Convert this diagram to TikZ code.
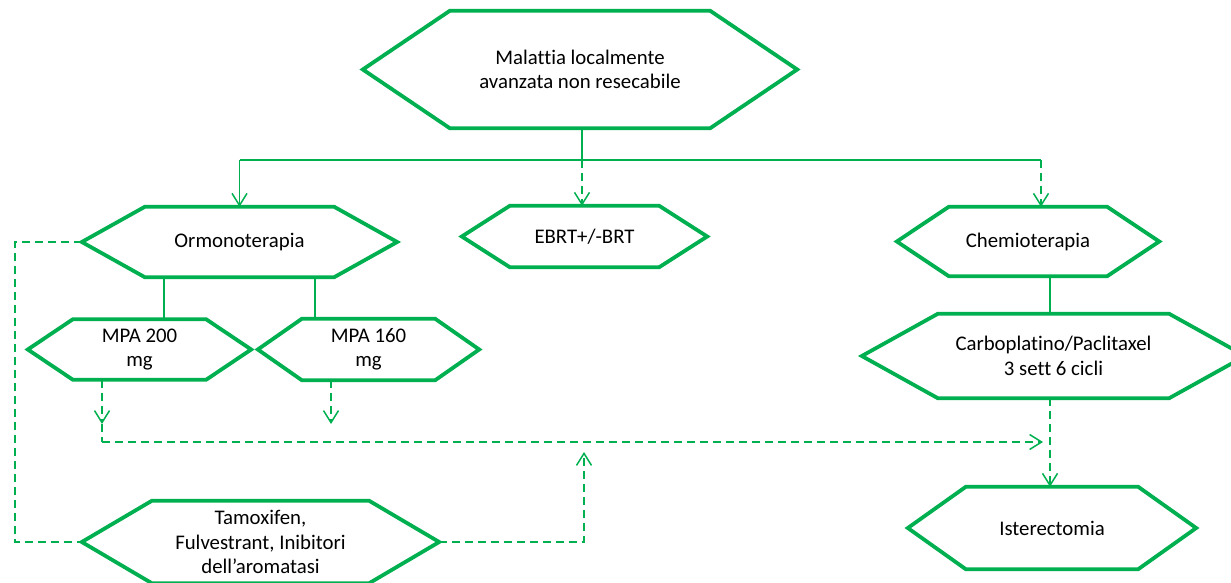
\documentclass[tikz,border=0pt]{standalone}
\usepackage{fontspec}
\setmainfont{Carlito}[Ligatures=NoCommon]
\usetikzlibrary{arrows.meta}
\definecolor{ogreen}{RGB}{0,176,80}
\newcommand\hexoutline[2]{\draw[hexline] (#1.west) -- ([xshift=#2pt]#1.north west) -- ([xshift=-#2pt]#1.north east) -- (#1.east) -- ([xshift=-#2pt]#1.south east) -- ([xshift=#2pt]#1.south west) -- cycle;}
\begin{document}
\begin{tikzpicture}[x=1pt,y=-1pt,
  box/.style={rectangle, inner sep=0pt, align=center, font=\fontsize{20.8}{24.5}\selectfont},
  hexline/.style={draw=ogreen, line width=3.8pt, line join=miter},
  conn/.style={draw=ogreen, line width=1.5pt},
  dconn/.style={conn, dash pattern=on 8pt off 5pt},
  arr/.style={-{Straight Barb[length=12pt,width=15pt]}}]
\useasboundingbox (0,0) rectangle (1231,583);
\clip (0,0) rectangle (1231,583);
% nodes
\node[box, minimum width=434pt, minimum height=117pt] (top) at (580,69.5) {Malattia localmente\\avanzata non resecabile};
\node[box, minimum width=315pt, minimum height=70pt] (ormo) at (239.5,242) {Ormonoterapia};
\node[box, minimum width=245pt, minimum height=61pt] (ebrt) at (584.5,236.5) {EBRT+/-BRT};
\node[box, minimum width=262pt, minimum height=69pt] (chemio) at (1028,241.5) {Chemioterapia};
\node[box, minimum width=383pt, minimum height=84pt] (carbo) at (1053.5,356) {Carboplatino/Paclitaxel\\3 sett 6 cicli};
\node[box, minimum width=288pt, minimum height=82pt] (ister) at (1052,528) {Isterectomia};
\node[box, minimum width=223pt, minimum height=60pt] (mpa200) at (139.5,349.5) {MPA 200\\mg};
\node[box, minimum width=221pt, minimum height=61pt] (mpa160) at (368.5,349.5) {MPA 160\\mg};
\node[box, minimum width=357pt, minimum height=82pt] (tam) at (260.5,542) {Tamoxifen,\\Fulvestrant, Inibitori\\dell’aromatasi};
\hexoutline{top}{87}
\hexoutline{ormo}{63}
\hexoutline{ebrt}{48}
\hexoutline{chemio}{52}
\hexoutline{carbo}{76}
\hexoutline{ister}{58}
\hexoutline{mpa200}{45}
\hexoutline{mpa160}{44}
\hexoutline{tam}{70}
% connectors
\coordinate (hl) at (239.5,160);
\coordinate (hm) at (582,160);
\coordinate (hr) at (1041,160);
\draw[conn] (top.south -| hm) -- (hm);
\draw[conn] (hl) -- (hr);
\draw[conn, arr] (hl) -- (ormo.north);
\draw[dconn, arr] (hm) -- (ebrt.north -| hm);
\draw[dconn, arr] (hr) -- (chemio.north -| hr);
\draw[conn] ([xshift=-75.5pt]ormo.south) -- ([xshift=-75.5pt]ormo.south |- mpa200.north);
\draw[conn] ([xshift=75.5pt]ormo.south) -- ([xshift=75.5pt]ormo.south |- mpa160.north);
\coordinate (cx) at (1050,0);
\draw[conn] (chemio.south -| cx) -- (carbo.north -| cx);
\draw[dconn, arr] (carbo.south -| cx) -- (ister.north -| cx);
\coordinate (a200) at (102,424);
\coordinate (h1) at (102,442);
\coordinate (h2) at (1043,442);
\draw[dconn, arr] (mpa200.south -| a200) -- (a200);
\draw[dconn] (a200) -- (h1);
\draw[dconn, arr] (h1) -- (h2);
\coordinate (a160) at (331,424);
\draw[dconn, arr] (mpa160.south -| a160) -- (a160);
\coordinate (l1) at (15,242);
\coordinate (l2) at (15,542);
\draw[dconn] (ormo.west) -- (l1) -- (l2) -- (tam.west);
\coordinate (r1) at (584,542);
\coordinate (r2) at (584,452);
\draw[dconn, arr] (tam.east) -- (r1) -- (r2);
\end{tikzpicture}
\end{document}
